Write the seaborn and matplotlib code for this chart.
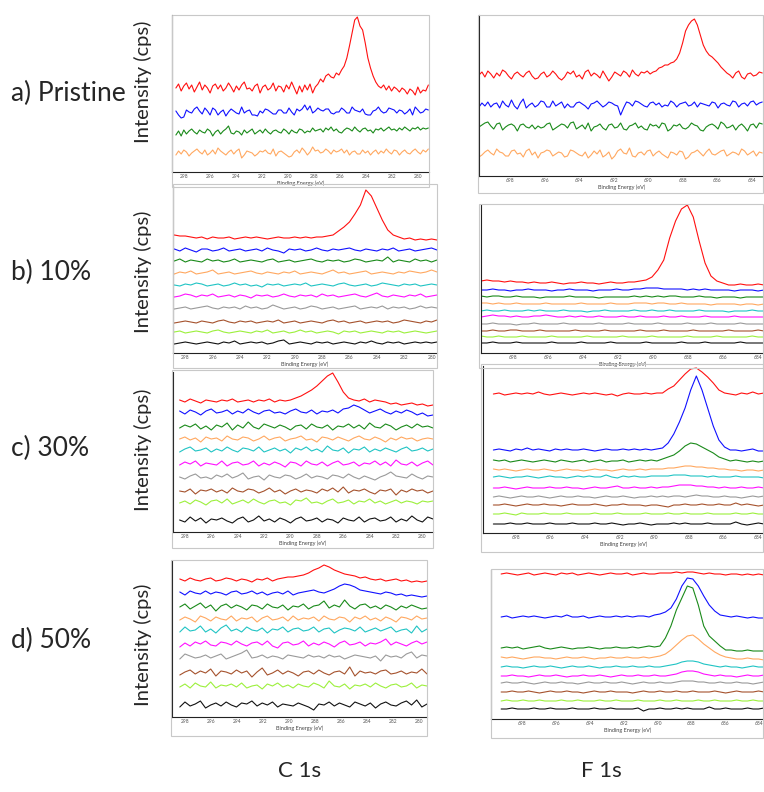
import numpy as np
import pandas as pd
import matplotlib
matplotlib.use("Agg")
import matplotlib.pyplot as plt
import seaborn as sns
from matplotlib.patches import Rectangle
from matplotlib.ticker import MultipleLocator

sns.set_style("white")
plt.rcParams['font.family'] = ['Lato', 'DejaVu Sans']

W, H = 764, 792

trace_names = ['red', 'blue', 'green', 'orange', 'cyan', 'magenta', 'gray', 'brown', 'lightgreen', 'black']
trace_colors = ['#ff1010', '#1010ff', '#1a8a1a', '#ffa860', '#20c4c4', '#ff10ff', '#9a9a9a', '#a5522d', '#9cf03c', '#111111']

c1s_ticks = [298, 296, 294, 292, 290, 288, 286, 284, 282, 280]
f1s_ticks = [698, 696, 694, 692, 690, 688, 686, 684]

############################################################################
# C 1s, pristine  (trace levels + wiggles, intensity in plot units)
############################################################################
ca_base = [84, 60, 40, 19]
ca_red = [0, 4, -3, 2, 5, -1, 3, -4, 1, 6, -2, 3, 0, -5, 2, 4, -1, 3, -3, 0,
          5, 1, -4, 2, -2, 3, 6, -1, 0, -3, 2, 4, -5, 1, 3, -2, 0, 5, -3, 2,
          1, -4, 3, -1, 6, 0, -6, 2, -4, 3, -2, 4, -5, 1,
          4, 9, 6, 12, 14, 11, 10, 15, 13, 18, 22, 30, 42, 55, 68, 71, 62, 58, 45, 30,
          20, 12, 6, 2, 0,
          3, -2, 2, -3, 1, -1, -4, 0, -2, -6, -1, -3, -7, 1, -5, -2, -3, 3]
ca_blue = [1, -3, -6, -5, 2, 0, -1, 3, 5, 1, -2, 4, 1, -3, 4, 2, -3, 0, 2, -4,
           0, 3, 1, -1, -2, 5, -1, 1, 2, -3, -3, -4, 1, -1, 3, 2, 0, -2, -2, 2,
           2, -1, -1, 4, 0, -3, 3, 1, 3, 7, 2, 6, -1, 1, 4, 2, 1, 3, 3, -1,
           -2, 0, 0, 4, 2, -1, -1, 5, 2, 1, 0, 3, -2, -3, -3, 1, 2, 5, 1, -1,
           0, 4, 3, 2, -1, 2, 1, -2, 0, 3, -3, 5, 2, -1, 0, 3, 2]
ca_green = [-3, 1, -4, 2, -2, 1, 3, 0, -2, 2, 0, -1, 3, 1, -4, 0, 2, -2, 1, 3,
            6, -1, -2, 1, 0, -3, 2, -1, 1, 3, -2, 0, 2, -1, 3, 0, -2, 1, 2, 0,
            -1, 3, 1, -2, 2, 0, -1, 3, 2, -1, 1, 0, 4, 1, 2, 3, 0, 4, 2, 5,
            1, 3, 0, -1, 2, 4, 3, 1, 5, 2, 0, 3, 4, 1, 2, -1, 3, 2, 4, 1,
            3, 5, 2, 3, 1, 4, 2, 5, 3, 1, 4, 3, 5, 2, 4, 3, 4]
ca_orange = [-2, 2, -1, 3, 1, -3, 0, 2, 4, 1, -1, 3, -2, 0, 3, -1, 5, 2, 0, -2,
             1, 3, -1, 2, 4, -5, -2, 2, 1, 0, -3, -1, 2, 1, 3, 0, -1, 4, -3, 1,
             2, 0, -2, -4, -3, 1, 3, 0, 5, 2, -2, 1, 6, 2, 3, 0, 1, 4, 2, -1,
             3, 1, 2, 4, 0, 3, -2, 1, 2, -1, -1, 3, 0, 2, -2, 1, 3, -1, 2, 0,
             4, 1, -1, 3, 2, -2, 1, 3, 0, -1, 2, 4, 1, -1, 3, 1, 4]

############################################################################
# C 1s, 10%
############################################################################
cb_base = [115, 103, 92, 80, 68, 57, 45, 31, 21, 10]
cb_red = [3, 2, 2, 1, 0, 1, -1, 1, 0, 0, 1, -1, 0, 1, 0, 1, 0, -1, 0, 1, 0, 0, 1, 0, 1, 0, 1, 1, 2,
          3, 7, 11, 16, 24, 33, 48, 42, 30, 18, 8, 3, 1, -1, 0, -2, -1, -2, -1, -2]
cb_blue = [1, -1, 2, 0, -2, 1, 1, -1, 0, 2, -1, 0, 1, -1, 0, 1, -1, 2, 0, -1, -3, 1, 0, 1, -1, 0, 2, 0, -1,
           1, 0, 1, 2, 0, -1, 1, 0, -1, 1, 0, 2, -1, 0, 1, -1, 0, 1, 2, 0]
cb_green = [0, 2, -1, 1, 0, -1, 2, 0, 1, -1, 0, 2, -1, 0, 1, 0, -1, 1, 2, -1, 0, 1, -1, 0, 1, 2, 0, -1, 1,
            0, 1, -1, 0, 2, 1, -1, 0, 1, 0, 4, -1, 1, 0, -1, 2, 0, 1, -1, 1]
cb_orange = [-1, 1, 0, 2, -1, 0, 1, 3, -1, 0, 1, -1, 0, 1, 2, 0, -1, 1, 0, -1, 1, 0, 2, -1, 0, 1, 0, -1, 1,
             3, 0, 1, -1, 0, 1, 2, -1, 0, 1, 0, -1, 1, 0, 2, 1, 0, 1, 3, 1]
cb_cyan = [0, -1, 1, 0, 2, 1, -1, 0, 1, -1, 0, 2, 0, 1, -1, 0, -2, 1, 0, 1, -1, 0, 1, 0, 2, -1, 0, 1, 0,
           -1, 1, 2, 0, -1, 0, 1, -1, 0, 2, 1, 0, -1, 1, 0, 1, -1, 0, 1, 0]
cb_magenta = [-1, 0, 2, 1, -1, 1, 0, 2, -1, 0, 1, -1, 1, 0, -2, 1, 0, 1, -1, 0, 2, 0, -1, 1, 0, 1, -1, 2,
              0, 1, -1, 0, 1, 2, 0, -1, 1, 3, 0, -1, 1, 0, -1, 1, 0, 2, -1, 0, 1]
cb_gray = [-1, 0, 1, -1, 0, 1, 2, 0, -1, 1, 0, 1, -1, 2, 0, 1, -1, 0, 3, 1, -1, 0, 1, -1, 0, 2, 1, -1, 0,
           1, -1, 0, 1, 2, -1, 0, 1, 0, 2, -1, 1, 0, 1, -1, 0, 2, 0, 1, 0]
cb_brown = [-1, 0, 1, 0, -1, 1, 0, -1, 1, 2, 0, -1, 1, 0, 1, -1, 0, 1, 0, 2, -1, 0, 1, -1, 0, 1, 0, -1, 1,
            2, 0, 1, -1, 0, 1, -1, 0, 1, 0, 1, -1, 0, 2, 1, 0, -1, 1, 0, 2]
cb_lightgreen = [0, 1, -1, 0, 1, 0, -1, 1, 2, 0, -1, 0, 1, 0, -1, 1, 0, 2, -1, 0, 1, -1, 0, 2, 0, 1, -1, 0,
                 1, 0, -2, 1, 0, 1, -1, 0, 1, 0, -1, 1, 0, 1, -1, 0, 1, 0, -1, 0, 1]
cb_black = [-1, 0, 1, 0, -1, 0, 1, 0, -1, 1, 0, 2, -1, 0, 1, 0, 1, -1, 0, 2, 3, -1, 0, 1, 0, -1, 1, 0, 1,
            -1, 0, 1, 0, -1, 1, 0, 2, 0, -1, 1, 0, 1, -1, 0, 1, 0, 1, 0, 1]

############################################################################
# C 1s, 30%
############################################################################
cc_base = [131, 120, 105, 93, 82, 68, 55, 41, 30, 12]
cc_red = [1, -1, 2, 0, -2, 1, 0, -1, 1, 0, 2, -1, 0, 1, -1, 1, 0, 2, -1, 1, 0, 1,
          3, 5, 8, 11, 15, 20, 25, 28, 19, 9, 3, 1,
          0, 2, -1, 1, 0, -1, -3, -2, -4, -3, -2, -4, -3, -5, -4]
cc_blue = [1, -2, 2, 0, -3, 1, 3, -1, 0, 2, -2, 1, -1, 3, 0, -2, 1, 2, -1, 0, -2, 1, 3, 0, -1, 2, -2, 1,
           0, 2, -1, 3, 4, 7, 5, 2, -1, 1, 3, 0, -2, 1, -1, 2, 0, -3, -1, -4, -3]
cc_green = [-1, 2, 0, 3, -2, 1, -3, 2, 0, 4, -3, 2, -1, 5, 0, -2, 3, 1, -1, 2, 0, -3, 1, 2, -2, 3, 0, -1,
            2, -3, 1, 0, 3, -1, 2, -2, 4, 0, -1, 3, 1, -3, 0, 2, -1, 3, 0, 1, -1]
cc_orange = [0, 2, -1, 1, -3, 2, 0, 1, -2, 3, 0, -1, 2, 1, -2, 0, 3, -1, 1, 2, -2, 0, 1, 3, -1, 0, -3, 2,
             1, -1, 2, 0, -2, 1, 3, 0, -1, 2, 0, -3, 1, -1, 2, 0, 1, -2, 0, 1, 0]
cc_cyan = [-2, 1, 3, -1, 0, 2, -2, 1, -1, 3, 0, -2, 2, 1, -1, 3, -2, 0, 2, -1, 1, -3, 2, 0, 3, -1, 1, -2,
           4, 0, -1, 2, -3, 1, 0, 3, -2, 1, -1, 2, 0, -2, 1, 3, -1, 0, 2, -1, 1]
cc_magenta = [-1, 2, 0, 3, -2, 1, 0, -1, 3, -2, 1, 2, -1, 0, 3, -2, 1, -1, 2, 0, -3, 2, 1, -2, 3, 0, -1,
              2, -2, 1, 3, -1, 0, 2, -2, 1, 0, 3, -1, 2, -2, 4, 0, -1, 2, -2, 1, 3, -1]
cc_gray = [0, -2, 1, 3, -1, 0, -2, 2, 0, 3, -1, 1, 4, -2, 0, 1, -3, 2, 0, -1, 2, 1, -2, 0, 3, -1, 1, 0,
           -2, 2, 1, -1, 3, 0, -2, 1, -1, -3, 0, 2, 5, 1, 0, -1, 3, 0, -2, 1, 0]
cc_brown = [0, -1, 2, -3, 1, 0, 2, -1, 1, -2, 3, 0, -1, 2, 1, -2, 0, 3, -1, 1, -3, 0, 2, -1, 1, 0, -2, 2,
            0, 3, -1, 4, -2, 1, 0, 2, -1, -3, 1, 0, 2, -4, 1, -1, 2, 0, 1, -2, 0]
cc_lightgreen = [-1, 1, -2, 2, 0, -3, 1, 2, -1, 3, -2, 0, 2, -1, 3, 0, -2, 1, 2, -1, 0, -3, 2, 1, 4, -1,
                 0, -2, 1, 3, -1, 0, 2, -2, 1, 0, 3, -1, 1, -2, 0, 2, -1, 1, 0, -2, 1, 0, 1]
cc_black = [0, -2, 3, -1, 2, -3, 1, 0, 2, -1, -3, 1, 3, -2, 0, 4, -1, 1, -2, 2, 0, -3, 1, 3, -1, 0, 2, -2,
            1, 0, -3, 2, 0, -1, 3, -2, 1, 2, -1, 0, 3, -2, 1, -1, 4, 0, -2, 3, 1]

############################################################################
# C 1s, 50%
############################################################################
cd_base = [137, 124, 110, 98, 87, 73, 60, 44, 31, 12]
cd_red = [1, -1, 2, 0, -1, 1, 2, -1, 0, 2, 1, -1, 1, 0, -2, 1, 0, 2, -1, 1,
          2, 3, 3, 4, 5, 7, 10, 12, 15, 13, 10, 8, 6, 5, 4, 2, 3, 1,
          0, 1, -1, 0, 1, -1, 0, -2, -1, -2, -1]
cd_blue = [1, -2, 2, 0, -1, 2, -1, 1, 0, -2, 1, 2, -1, 0, 2, -1, 1, -2, 0, 1, -1, 2, -2, 0, 1, 2, 3, 1,
           0, 2, 4, 7, 9, 8, 6, 3, 2, 1, 0, -1, 1, 0, -2, -1, -3, -2, -3, -4, -3]
cd_green = [0, 3, -2, 1, 4, -1, 2, -4, 1, 3, -1, 2, 0, -3, 2, 1, -2, 3, 0, -1, 2, -3, 1, 0, 3, -2, 1, 2,
            6, -1, 2, 0, 7, 1, -2, 2, 3, -1, 1, -2, 2, 0, -3, 1, -1, 2, 0, -2, -1]
cd_orange = [-1, 2, 0, -3, 3, 1, -2, 2, 0, -1, 3, -2, 1, 0, 2, -3, 1, 3, -1, 0, 2, -2, 3, -1, 1, 0, 2,
             -2, 3, 0, -1, 2, 1, -3, 2, 0, 3, -1, 1, -2, 2, 0, -3, 2, 1, -1, 3, 0, 1]
cd_cyan = [-2, 3, -1, 0, 4, -2, 1, -3, 2, 5, -1, 1, -2, 3, 0, -1, 2, -3, 1, 0, 3, -2, 1, 2, -1, 0, 3, -2,
           1, 2, -3, 0, 2, 1, -1, 3, -2, 0, 2, -1, 1, 3, -2, 0, 1, -3, 4, -2, 1]
cd_magenta = [-3, 1, -2, 2, 0, 3, -1, -2, 2, 1, -1, 3, 0, -2, 1, 2, -1, 3, -2, -4, 1, 2, -1, 0, 3, -2, 1,
              -1, 2, 0, -3, 1, 3, -1, 0, 2, -2, 1, 0, 2, 5, -1, 2, 0, -2, 1, 3, 0, 2]
cd_gray = [-2, 3, 1, -1, 0, 2, -1, 1, 3, -2, 0, 2, 4, 7, -1, 0, 2, -1, 1, 0, -2, 2, 1, 0, -1, 2, 0, 1,
           -1, 2, 0, 1, -2, 0, 2, 1, 0, -1, 1, -4, 2, 0, 1, -1, 3, 5, -1, 2, 1]
cd_brown = [-2, 1, 3, -1, 2, 0, 4, -3, 2, 1, -1, 3, 0, 2, -4, 1, 5, -2, 0, 3, -1, 2, 0, -3, 1, 2, -1, 3,
            0, -2, 1, 2, -1, 6, -3, 2, 0, 1, -1, 2, 3, -1, 0, 2, -1, 1, 0, 4, -1]
cd_lightgreen = [-1, 2, -2, 3, 0, -1, 4, -2, 1, 0, 2, -1, 3, -2, 0, 1, -3, 2, 0, 3, -1, 1, -2, 2, 0, -1,
                 3, 1, -2, 5, 0, -1, 2, -3, 1, 0, 2, -1, 3, 0, -2, 1, 2, -1, 0, 3, -2, 1, 0]
cd_black = [-2, 3, -1, 1, 4, -3, 0, 2, -1, 3, 0, -2, 2, 1, 4, -1, 2, 0, 3, -2, 1, 0, -1, 2, 0, -2, -5, 1,
            0, 3, -1, 2, 0, -2, 3, 1, -1, 2, -3, 1, 3, 0, -1, 2, 4, 0, 5, -2, 1]

############################################################################
# F 1s, pristine
############################################################################
fa_base = [101, 71, 49, 22]
fa_red = [0, 3, -2, 4, 1, -3, 2, -1, 5, 3, -1, -4, 1, 3, 0, -2, 2, 4, -1, -4,
          -3, 1, 3, -2, 0, 4, 1, -3, -5, -2, 3, 1, 4, -2, 0, -4, 3, 5, -1, 2,
          0, -3, 4, -1, -6, -2, 3, 1, -1, 4, 2, -2, 5, 1, -1, 3, 2, 4, 1, 3,
          4, 7, 8, 10, 10, 12, 13, 16, 22, 32, 44, 50, 54, 56, 50, 40, 30, 24, 20, 18,
          15, 12, 8, 5, 2, 0,
          -3, 2, 4, -2, -4, 1, 2, -1, 0, 3, 2]
fa_blue = [-2, 2, -1, 3, -2, 1, 2, -3, 4, 0, -2, 5, -1, -4, 2, 6, -3, 0, 2, -2,
           0, 4, 3, -2, -2, 4, -1, 1, 3, -3, 1, -2, -2, 2, 3, 1, -1, -4, 1, 2,
           4, 1, -2, 0, 3, 2, 0, -1, -10, -3, 3, 2, -1, 4, 3, 1, -1, -2, 2, 3,
           0, 2, -2, 0, -1, 4, 2, -2, 1, 2, 3, -1, 0, 3, -2, 2, 1, 0, -1, 3,
           2, -3, 1, 2, 0, -1, 4, 3, -2, 1, 2, -1, 3, 4, 0, 2, 3]
fa_green = [0, 2, 4, 5, 1, -2, 3, 4, -3, 0, 2, 3, 1, -4, 2, 3, 0, -1, 2, -2,
            1, -1, 0, 3, 4, -3, -1, 1, 3, 2, -1, 4, 5, -2, 0, 2, -2, 4, -4, 0,
            1, 3, -1, -3, 2, 3, -1, 0, 4, -2, -3, 1, 2, 4, -1, 1, -2, -3, 3, 1,
            2, -1, 4, 3, -4, -2, 2, 1, 3, -1, -2, 0, 4, 2, 1, -3, -4, 0, 2, 3,
            1, -2, 5, 3, -1, 0, 2, -3, 1, 3, 0, -4, 2, 3, -1, 4, 3]
fa_orange = [-3, -1, 2, 4, 1, -1, 5, 2, 1, -2, -2, 3, 4, 0, 1, -3, 3, 5, -1, 2,
             -4, 1, 2, 4, 3, -2, 0, 2, 1, -3, -2, 4, 3, 1, -1, -2, 2, -4, -1, 3,
             0, 4, -3, -1, 2, -5, -2, 3, 5, 1, 0, 6, -2, -3, 1, 2, -1, 3, 4, -2,
             1, 3, 0, -2, -4, 2, 1, -1, 3, 2, -5, -3, 1, 2, 4, 1, -2, 2, 5, 0,
             -1, 1, 3, 4, -2, 0, 2, 1, -1, 5, 3, -1, 1, 3, -2, 2, 1]

############################################################################
# F 1s, 10%
############################################################################
fb_base = [70, 63, 56, 49, 42, 36, 29, 22, 16, 10]
fb_red = [2, 3, 2, 2, 1, 2, 1, 1, 0, 1, 0, 0, 1, 0, -1, 0, 0, 1, 0, 0, -1, 0, 1, 0, 0, 1, 1, 2,
          3, 6, 13, 23, 45, 62, 74, 78, 66, 42, 20, 7, 2, 0, -2,
          -2, -1, -2, -2, -1, -2]
fb_blue = [0, 0, 1, 0, 0, -1, 0, 0, 1, 0, 0, 0, -1, 0, 0, 1, 0, 0, 0, -1, 0, 0, 0, 1, 0, 0, 1, 1, 2, 2, 2,
           1, 1, 1, 1, 0, 1, 0, 1, 0, 0, 0, 0, -1, 0, 0, 0, -1, 0]
fb_green = [1, 0, 1, 1, 0, 0, 1, 0, 0, 0, -1, 0, 0, 0, 0, 1, 0, 0, 0, 0, -1, 0, 0, 0, 0, 0, 1, 0, 1, 0, 1,
            0, 1, 1, 0, 0, 0, 1, 0, 0, -1, 0, 0, 0, -1, 0, 0, 0, 0]
fb_orange = [1, 1, 0, 1, 0, 0, 1, 0, 0, 0, 0, 1, 0, 0, 0, 0, 0, 1, 0, 0, 0, 0, 1, 0, 0, 0, 1, 1, 1, 0, 1,
             1, 0, 0, 1, 0, 0, 0, 0, -1, 0, 0, 0, 0, -1, 0, 0, -1, 0]
fb_cyan = [0, 1, 0, 0, 1, 0, 0, 0, 1, 0, 1, 0, 0, 0, 1, 0, 0, 0, -1, 0, 0, 1, 0, 0, 0, 0, 1, 0, 0, 1, 0,
           0, 1, 0, 0, 0, 0, 1, 0, 0, 0, 0, -1, 0, 0, 0, 1, 0, 0]
fb_magenta = [0, 1, 2, 1, 1, 0, 1, 0, 0, 1, 1, 2, 1, 0, 0, 1, 0, 1, 0, 0, 1, 0, 0, 0, 1, 0, 0, 1, 0, 0,
              0, 1, 0, 0, 1, 0, 0, 0, 1, 0, 0, 0, 0, 1, 0, 0, 0, 0, 0]
fb_gray = [0, 0, 1, 0, 0, 0, -1, 0, 0, 1, 0, 0, 0, 0, 1, 0, 0, 0, 0, 0, 1, 0, 0, 0, 0, 1, 0, 0, 0, 0, 1,
           0, 0, 0, 0, 1, 0, 0, 0, 1, 0, 0, 0, 0, 1, 0, 0, 0, 0]
fb_brown = [0, 0, 1, 0, 0, 1, 1, 0, 0, 0, 1, 0, 0, 0, 0, 0, 1, 0, 0, 0, 0, 1, 0, 0, 0, 0, 0, 1, 0, 0, 0,
            1, 0, 0, 0, 0, 1, 0, 0, 0, 0, 0, 1, 0, 0, 0, 0, 1, 0]
fb_lightgreen = [1, 0, 0, 1, 0, 0, 0, 1, 0, 0, 0, 0, 1, 0, 0, 0, 0, 0, 1, 0, 0, 0, 0, 0, 1, 0, 0, 0, 0,
                 1, 0, 0, 0, 0, 0, 1, 0, 0, 0, 0, 1, 0, 0, 0, 0, 0, 1, 0, 0]
fb_black = [0, 0, 1, 0, 0, 0, 1, 0, 0, 0, 0, 0, 1, 0, 0, 0, 0, 1, 0, 0, 0, 0, 1, 0, 0, 0, 0, 0, 1, 0, 0,
            0, 0, 0, 1, 0, 0, 0, 1, 0, 0, 0, 0, 0, 1, 0, 0, 0, 0]

############################################################################
# F 1s, 30%
############################################################################
fc_base = [139, 83, 72, 63, 56, 45, 36, 28, 19, 9]
fc_red = [0, 1, -1, 0, 1, 0, 1, 0, 2, 0, -1, 0, 1, 0, -1, 0, 1, 0, 1, 0, -1, 0, -2, 0, 1, 0, 0, 1, 0, 1,
          1, 5, 8, 14, 20, 25, 26, 22, 17, 11, 4, 1,
          0, -1, 1, 0, 2, 0, 1]
fc_blue = [0, 1, 0, -1, 1, 0, 2, 0, 1, 0, -1, 1, 0, 1, 0, 0, 1, 0, -1, 0, 1, 0, 0, 1, 0, 1, 0, 1, 0, 1,
           2, 7, 16, 28, 42, 60, 74, 60, 42, 24, 10, 3, 0,
           0, -1, 0, 1, -1, -1]
fc_green = [1, 0, 1, -1, 0, 1, 0, -1, 0, 1, 0, -1, 1, 0, -1, 0, 1, -1, 0, 1, -1, 0, 0, 1, -1, 0, 1, 0, 1, 0,
            2, 4, 6, 10, 15, 18, 17, 14, 11, 8, 4, 2,
            0, 1, 0, -1, 0, -1, 0]
fc_orange = [1, 0, 1, 0, -1, 0, 1, 0, 0, 1, 0, -1, 0, 1, 0, 0, -1, 0, 1, 0, 0, -1, 0, 1, 0, 0, 1, 0, 1, 1,
             1, 2, 2, 3, 4, 4, 3, 3, 2, 2, 1, 1, 0, 0, -1, 0, 0, -1, 0]
fc_cyan = [0, 1, 0, -1, 0, 0, 1, 0, -1, 0, 1, 0, 0, -1, 0, 1, 0, 1, 0, 0, 2, 0, -1, 1, 0, 1, 0, 0, 1, 1,
           1, 1, 2, 2, 2, 1, 1, 1, 0, 1, 0, 0, 0, 1, 0, 0, 0, 0, -1]
fc_magenta = [0, 0, 1, 0, -1, 0, 1, 0, 0, 0, 1, 0, 0, 1, 0, 0, -1, 0, 1, 0, 0, 1, 2, 0, 0, 1, 0, 0, 1, 0,
              1, 1, 2, 3, 3, 3, 2, 2, 1, 1, 0, 1, 0, 0, 1, 0, 0, 1, 0]
fc_gray = [0, 1, 0, -1, 0, 1, 0, 0, 1, 0, -1, 0, 1, 0, 0, 1, 0, 0, -1, 0, 1, 0, 0, 1, 0, -1, 0, 0, 1, 0,
           1, 0, 1, 1, 0, 1, 2, 1, 1, 0, 0, 1, 0, 0, -1, 0, 1, 0, 1]
fc_brown = [0, 0, 1, 0, -1, 0, 1, 0, 0, 1, 0, 0, -1, 0, 1, 0, 0, 0, 1, 0, -1, 0, 0, 1, 0, 0, 0, -1, 0, 0,
            -1, -2, 0, 0, 1, 0, 0, 1, 0, 0, 1, 0, 0, 2, 0, 1, 0, -1, 0]
fc_lightgreen = [0, 0, 1, 0, -1, 1, 0, 0, 0, 1, 0, 0, 0, 1, 0, 0, 0, 0, 1, 0, 0, 0, 1, 0, 0, 0, 0, 1, 0,
                 0, 0, 1, 0, 0, 1, 0, 0, 0, 1, 0, 0, 0, 0, 1, 0, 0, 1, 0, 0]
fc_black = [0, 0, 0, 1, 0, 0, 1, 0, 0, 0, 1, 0, 0, 0, 1, 0, 0, 0, 1, 0, 0, 1, 0, -1, 0, 0, 1, 0, -1, 0,
            0, 0, 1, 0, 1, 0, 0, 0, 1, 0, 0, 0, 0, 2, 0, -1, 0, 1, 0]

############################################################################
# F 1s, 50%
############################################################################
fd_base = [145, 102, 71, 61, 52, 43, 36, 27, 18, 10]
fd_red = [0, 1, 0, -1, 0, 1, -1, 0, 1, 0, -1, 1, 0, 1, -1, 0, 1, 0, -1, 0, 1, 0, 0, 1, -1, 0, 1, 0, 0, 1,
          1, 1, 2, 1, 2, 2, 1, 0, 1, 0, 0, -1, 0, 0, -1, 0, -1, 0, -1]
fd_blue = [0, 1, -1, 0, 1, 0, 1, 0, -1, 0, 1, 0, 2, 0, 0, 1, -1, 0, 1, 0, 0, 1, 0, 1, 0, 1, 1, 0,
           2, 3, 5, 9, 18, 31, 39, 38, 31, 21, 12, 6, 2, 1,
           0, 1, 0, -1, 0, -1, -1]
fd_green = [0, 1, 0, 1, -1, 0, 1, 2, 0, -1, 0, 1, 0, -1, 0, 0, 1, 0, -1, 0, 0, 1, 0, 0, 1, 0, 1, 2,
            1, 2, 10, 22, 38, 50, 62, 60, 43, 22, 12, 7, 2, -2,
            -2, -3, -3, -2, -3, -3, -3]
fd_orange = [1, 0, 1, 0, -1, 0, 1, 1, 0, 0, -1, 0, 1, 0, 0, 1, 0, -1, 0, 0, 1, 0, 0, 1, 0, 0, 1, 0,
             1, 2, 4, 8, 13, 18, 22, 23, 19, 14, 10, 6, 3, 1,
             0, -1, -1, 0, -1, -1, -2]
fd_cyan = [0, 1, 0, 0, -1, 0, 1, 0, 0, 1, 0, -1, 0, 1, 0, 0, 1, 0, -1, 0, 0, 1, 0, 0, 1, 0, 0, 1, 0, 0,
           1, 2, 3, 5, 6, 6, 5, 3, 2, 1, 0, 1, 0, 0, -1, 0, 1, 0, 0]
fd_magenta = [0, 0, 1, 0, 0, -1, 0, 1, 0, 0, 1, 0, -1, 0, 0, 1, 0, 0, 1, 0, -1, 0, 1, 0, 0, 1, 0, 0, 1, 0,
              0, 1, 2, 4, 5, 5, 4, 2, 1, 0, 1, 0, 0, -1, 0, 1, 0, 0, 1]
fd_gray = [0, 1, 0, 0, 1, 0, -1, 0, 1, 0, 0, 1, 0, 0, -1, 0, 1, 0, 0, 1, 0, 0, 1, 0, -1, 0, 1, 0, 0, 1,
           0, 0, 1, 2, 2, 2, 1, 1, 0, 0, 1, 0, 0, 1, 0, 0, -1, 0, 1]
fd_brown = [0, 0, 1, 0, 0, 1, 0, -1, 0, 1, 0, 0, 1, 0, 0, -1, 0, 1, 0, 0, 1, 0, 0, 0, -1, 0, 1, 0, 0, 1,
            0, 0, 1, 0, 0, 1, 0, 0, 0, 1, 0, -1, 0, 1, 0, 0, 0, 1, 0]
fd_lightgreen = [0, 1, 0, 0, 1, 0, 0, 1, 0, 0, 0, 1, 0, 0, 1, 0, 0, 0, 1, 0, 0, 1, 0, 0, 0, 1, 0, 0, 0,
                 1, 0, 0, 1, 0, 0, 0, 1, 0, 0, 1, 0, 0, 0, 1, 0, 0, 1, 0, 0]
fd_black = [0, 0, 1, 0, 0, 0, 1, 0, 0, 1, 0, 0, 0, 1, 0, 0, 0, 1, 0, 0, 1, 0, 0, 0, 0, 1, -2, 0, 0, 1,
            0, 0, 1, 0, 1, 0, 0, 0, 2, 0, 0, 1, 0, 0, 0, 1, 0, 0, 1]

############################################################################
# panel layout: pixel boxes of the pasted screenshots
############################################################################
panels = [
    dict(traces=[ca_red, ca_blue, ca_green, ca_orange], base=ca_base,
         span=(298.6, 279.2), xlim=(298.9, 279.15), ticks=c1s_ticks,
         box=(172, 15, 429, 172), frame=(172, 15, 429, 187), ystep=16),
    dict(traces=[cb_red, cb_blue, cb_green, cb_orange, cb_cyan, cb_magenta, cb_gray, cb_brown,
                 cb_lightgreen, cb_black], base=cb_base,
         span=(298.8, 279.6), xlim=(298.9, 279.6), ticks=c1s_ticks,
         box=(173, 186, 437, 353), frame=(173, 184, 437, 368), ystep=15),
    dict(traces=[cc_red, cc_blue, cc_green, cc_orange, cc_cyan, cc_magenta, cc_gray, cc_brown,
                 cc_lightgreen, cc_black], base=cc_base,
         span=(298.4, 279.2), xlim=(298.9, 279.2), ticks=c1s_ticks,
         box=(173, 372, 433, 532), frame=(172, 370, 433, 548), ystep=23),
    dict(traces=[cd_red, cd_blue, cd_green, cd_orange, cd_cyan, cd_magenta, cd_gray, cd_brown,
                 cd_lightgreen, cd_black], base=cd_base,
         span=(298.4, 279.4), xlim=(299.0, 279.4), ticks=c1s_ticks,
         box=(172, 561, 427, 717), frame=(171, 560, 427, 736), ystep=30.7),
    dict(traces=[fa_red, fa_blue, fa_green, fa_orange], base=fa_base,
         span=(699.8, 683.4), xlim=(699.8, 683.3), ticks=f1s_ticks,
         box=(479, 15, 764, 176), frame=(478, 15, 763, 193), ystep=23),
    dict(traces=[fb_red, fb_blue, fb_green, fb_orange, fb_cyan, fb_magenta, fb_gray, fb_brown,
                 fb_lightgreen, fb_black], base=fb_base,
         span=(699.84, 683.66), xlim=(699.84, 683.66), ticks=f1s_ticks,
         box=(481, 205, 764, 353), frame=(479, 204, 763, 368), ystep=22),
    dict(traces=[fc_red, fc_blue, fc_green, fc_orange, fc_cyan, fc_magenta, fc_gray, fc_brown,
                 fc_lightgreen, fc_black], base=fc_base,
         span=(699.3, 683.65), xlim=(699.9, 683.65), ticks=f1s_ticks,
         box=(483, 366, 764, 533), frame=(481, 364, 763, 552), ystep=24.7),
    dict(traces=[fd_red, fd_blue, fd_green, fd_orange, fd_cyan, fd_magenta, fd_gray, fd_brown,
                 fd_lightgreen, fd_black], base=fd_base,
         span=(699.25, 683.7), xlim=(699.85, 683.7), ticks=f1s_ticks,
         box=(491, 570, 764, 719), frame=(491, 569, 763, 738), ystep=15.7),
]

fig = plt.figure(figsize=(W / 100, H / 100), dpi=100)

for p in panels:
    l, t, r, b = p['frame']
    fig.add_artist(Rectangle((l / W, 1 - b / H), (r - l) / W, (b - t) / H,
                             transform=fig.transFigure, fill=False,
                             edgecolor='#c8c8c8', linewidth=0.8))

    l, t, r, b = p['box']
    ax = fig.add_axes([l / W, 1 - b / H, (r - l) / W, (b - t) / H])
    ax.patch.set_alpha(0)

    frames = []
    for name, vals, base in zip(trace_names, p['traces'], p['base']):
        energy = np.linspace(p['span'][0], p['span'][1], len(vals))
        frames.append(pd.DataFrame({'energy': energy,
                                    'intensity': base + np.array(vals),
                                    'trace': name}))
    df = pd.concat(frames, ignore_index=True)
    used = trace_names[:len(p['traces'])]
    sns.lineplot(data=df, x='energy', y='intensity', hue='trace', hue_order=used,
                 palette=dict(zip(trace_names, trace_colors)), estimator=None,
                 sort=False, legend=False, linewidth=0.8, ax=ax)

    ax.set_xlim(p['xlim'])
    ax.set_ylim(0, b - t)
    ax.set_xticks(p['ticks'])
    ax.set_xticklabels([str(v) for v in p['ticks']])
    ax.yaxis.set_major_locator(MultipleLocator(p['ystep']))
    ax.tick_params(axis='both', direction='in', length=3, width=0.6, color='#222222')
    ax.tick_params(axis='x', labelsize=3.5, labelcolor='#555555', pad=1.5)
    ax.tick_params(axis='y', labelleft=False)
    ax.set_xlabel('Binding Energy (eV)', fontsize=4, color='#444444', labelpad=1)
    ax.set_ylabel('')
    for s in ['top', 'right']:
        ax.spines[s].set_visible(False)
    for s in ['left', 'bottom']:
        ax.spines[s].set_color('#222222')
        ax.spines[s].set_linewidth(0.8)

# row labels and column labels
row_labels = ['a) Pristine', 'b) 10%', 'c) 30%', 'd) 50%']
row_y = [93, 272, 448, 640]
ylabel_y = [82, 272, 450, 645]
for lab, y, yy in zip(row_labels, row_y, ylabel_y):
    fig.text(11 / W, 1 - y / H, lab, fontsize=19, ha='left', va='center')
    fig.text(143 / W, 1 - yy / H, 'Intensity (cps)', fontsize=14.5, rotation=90,
             ha='center', va='center')

fig.text(300 / W, 1 - 771 / H, 'C 1s', fontsize=16, ha='center', va='center')
fig.text(601 / W, 1 - 771 / H, 'F 1s', fontsize=16, ha='center', va='center')

fig.savefig('out.png', dpi=100, facecolor='white')
